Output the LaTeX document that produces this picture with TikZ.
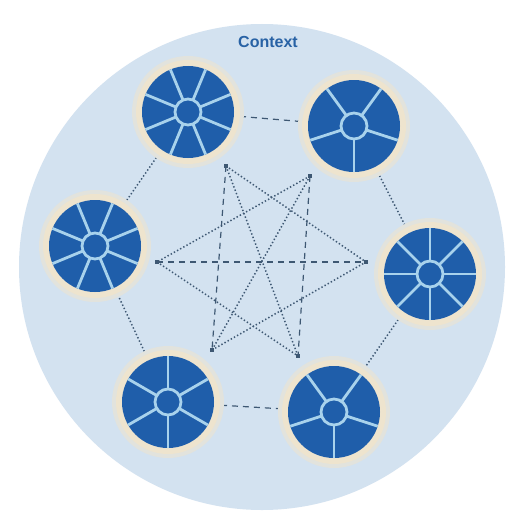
\documentclass[tikz,border=0pt]{standalone}
\usepackage{fontspec}
\setsansfont{Liberation Sans}
\definecolor{bgc}{RGB}{211,226,240}
\definecolor{disc}{RGB}{31,94,170}
\definecolor{spk}{RGB}{168,210,236}
\definecolor{ringc}{RGB}{238,228,206}
\definecolor{lnc}{RGB}{62,88,115}
\definecolor{ttl}{RGB}{40,98,165}
\tikzset{
  ringnode/.style={circle,fill=ringc,minimum size=104pt,inner sep=0pt},
  dotline/.style={lnc,line width=1.5pt,dash pattern=on 1.4pt off 2.2pt},
  dashline/.style={lnc,line width=1.2pt,dash pattern=on 6pt off 5pt},
  endsq/.style={fill=lnc,minimum size=3.5pt,inner sep=0pt,rectangle}
}
\newcommand{\mywheel}[3]{% node name, n spokes, offset
  \fill[ringc!55!bgc] (#1.center) circle[radius=56pt];
  \fill[ringc] (#1.center) circle[radius=52pt];
  \fill[disc] (#1.center) circle[radius=46pt];
  \pgfmathsetmacro{\stp}{360/#2}
  \foreach \k in {1,...,#2}{
    \draw[spk,line width=2.8pt] (#1.center) -- ++({#3+\k*\stp}:46pt);
  }
  \fill[disc,draw=spk,line width=2.8pt] (#1.center) circle[radius=13pt];
}
\begin{document}
\begin{tikzpicture}[x=1pt,y=-1pt]
\useasboundingbox (0,0) rectangle (510,519);
\fill[white] (0,0) rectangle (510,519);
\fill[bgc] (262,267) circle[radius=243];
\node[font=\sffamily\bfseries\fontsize{16}{16}\selectfont,text=ttl] (title) at (268,42) {Context};

% wheels
\node[ringnode] (w1) at (188,112) {};
\node[ringnode] (w2) at (354,126) {};
\node[ringnode] (w3) at (95,246) {};
\node[ringnode] (w4) at (430,274) {};
\node[ringnode] (w5) at (168,402) {};
\node[ringnode] (w6) at (334,412) {};

% inner endpoints
\coordinate (a) at (226,166);
\coordinate (b) at (310,176);
\coordinate (c) at (157,262);
\coordinate (d) at (366,262);
\coordinate (e) at (212,350);
\coordinate (f) at (298,356);

% inner web
\draw[dashline] (c) -- (d);
\draw[dotline] (a) -- (f);
\draw[dotline] (b) -- (e);
\draw[dotline] (a) -- (d);
\draw[dotline] (b) -- (c);
\draw[dotline] (c) -- (f);
\draw[dotline] (e) -- (d);
\draw[dashline] (a) -- (e);
\draw[dashline] (b) -- (f);
\foreach \p in {a,b,c,d,e,f} \node[endsq] at (\p) {};

% outer ring connectors
\draw[dashline] (w1) -- (w2);
\draw[dotline] (w2) -- (w4);
\draw[dotline] (w4) -- (w6);
\draw[dashline] (w6) -- (w5);
\draw[dotline] (w5) -- (w3);
\draw[dotline] (w3) -- (w1);

\mywheel{w1}{8}{22.5}
\mywheel{w2}{5}{-18}
\mywheel{w3}{8}{22.5}
\mywheel{w4}{8}{0}
\mywheel{w5}{6}{30}
\mywheel{w6}{5}{-18}
\end{tikzpicture}
\end{document}
